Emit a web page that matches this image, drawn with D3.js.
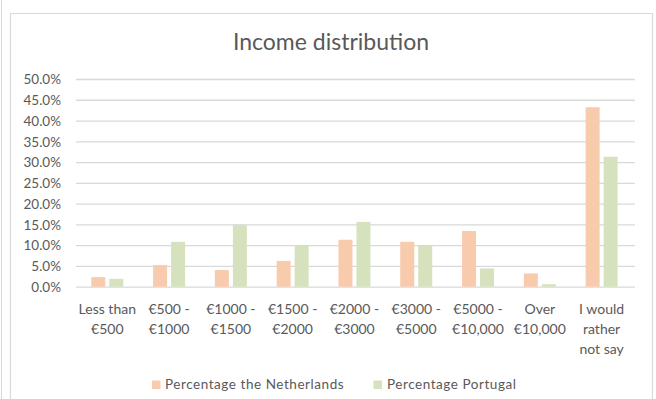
<!DOCTYPE html>
<html>
<head>
<meta charset="utf-8">
<script src="https://cdn.jsdelivr.net/npm/d3@7"></script>
<style>
  html, body { margin: 0; padding: 0; background: #fff; }
  svg { display: block; }
  text { font-family: Lato, "Open Sans", sans-serif; fill: #595959; }
</style>
</head>
<body>
<svg id="chart" width="656" height="399"></svg>
<script>
const title = "Income distribution";
const categories = [
  ["Less than", "€500"],
  ["€500 -", "€1000"],
  ["€1000 -", "€1500"],
  ["€1500 -", "€2000"],
  ["€2000 -", "€3000"],
  ["€3000 -", "€5000"],
  ["€5000 -", "€10,000"],
  ["Over", "€10,000"],
  ["I would", "rather", "not say"]
];
const seriesNames = ["Percentage the Netherlands", "Percentage Portugal"];
const netherlands = [2.3, 5.2, 4.0, 6.2, 11.3, 10.8, 13.4, 3.2, 43.2];
const portugal = [1.9, 10.8, 14.9, 9.9, 15.6, 10.0, 4.4, 0.6, 31.3];
const yTicks = [0, 5, 10, 15, 20, 25, 30, 35, 40, 45, 50];
const colors = ["#F8CBAD", "#D6E2BD"];

const svg = d3.select("#chart");
const plotLeft = 76, plotRight = 635, plotTop = 79, plotBottom = 286.7;

// outer borders
svg.append("line").attr("x1", 1.5).attr("x2", 1.5).attr("y1", 0).attr("y2", 399)
  .attr("stroke", "#D9D9D9").attr("stroke-width", 1);
svg.append("path").attr("d", "M10.5,399 V13.5 H652.5 V399")
  .attr("fill", "none").attr("stroke", "#D9D9D9").attr("stroke-width", 1.2);

svg.append("text").attr("x", 331).attr("y", 49.5).attr("text-anchor", "middle")
  .style("font-size", "23px").text(title);

const idx = d3.range(categories.length);
const x0 = d3.scaleBand().domain(idx).range([76.4, 632.5]).padding(0);
const bw = x0.bandwidth();
const x1 = d3.scaleBand().domain([0, 1]).range([bw / 2 - 16, bw / 2 + 16]).paddingInner(0.222);
const y = d3.scaleLinear().domain([0, 50]).range([plotBottom, plotTop]);

// gridlines
const yAxis = d3.axisLeft(y).tickValues(yTicks).tickSize(-(plotRight - plotLeft))
  .tickFormat(d => d.toFixed(1) + "%");
const gy = svg.append("g").attr("transform", `translate(${plotLeft},0)`).call(yAxis);
gy.select(".domain").remove();
gy.selectAll(".tick line").attr("stroke", "#D9D9D9").attr("stroke-width", 1.3);
gy.selectAll(".tick text").attr("x", -15).attr("dy", "0.35em")
  .style("font-size", "13.5px").style("fill", "#595959").style("font-family", "Lato, sans-serif");

// bars
const series = [netherlands, portugal];
series.forEach((vals, s) => {
  svg.append("g").selectAll("rect").data(vals).join("rect")
    .attr("x", (d, i) => x0(i) + x1(s))
    .attr("width", x1.bandwidth())
    .attr("y", d => y(d))
    .attr("height", d => y(0) - y(d))
    .attr("fill", colors[s]);
});

// x labels
const gx = svg.append("g");
categories.forEach((lines, i) => {
  const t = gx.append("text").attr("text-anchor", "middle")
    .attr("x", x0(i) + bw / 2).attr("y", 313.5).style("font-size", "14px");
  lines.forEach((ln, k) => {
    t.append("tspan").attr("x", x0(i) + bw / 2).attr("dy", k === 0 ? 0 : 20).text(ln);
  });
});

// legend
const legend = [
  { x: 152, tx: 165 },
  { x: 373.5, tx: 387 }
];
seriesNames.forEach((name, s) => {
  svg.append("rect").attr("x", legend[s].x).attr("y", 380.5).attr("width", 8.5).attr("height", 8.5)
    .attr("fill", colors[s]);
  svg.append("text").attr("x", legend[s].tx).attr("y", 389).style("font-size", "13.5px")
    .style("letter-spacing", "0.55px").text(name);
});
</script>
</body>
</html>
